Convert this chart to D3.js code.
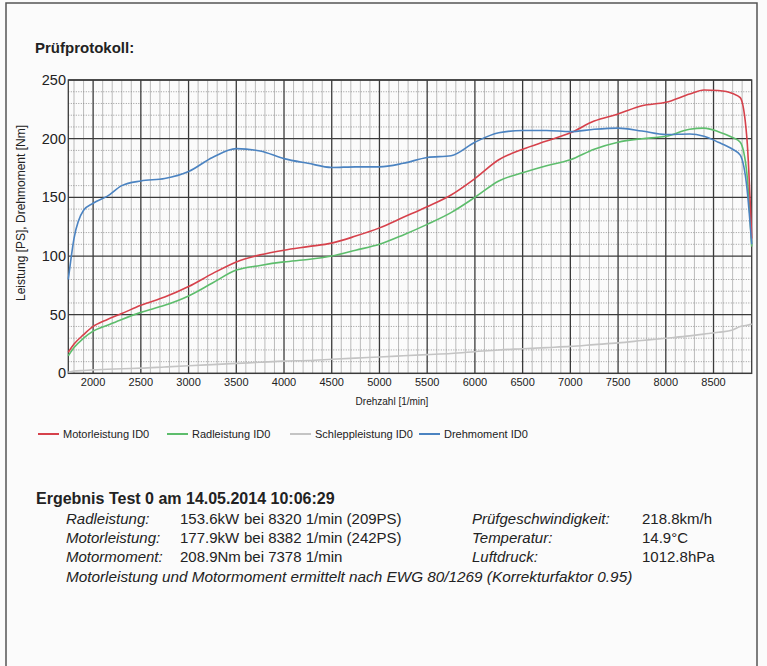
<!DOCTYPE html>
<html>
<head>
<meta charset="utf-8">
<script src="https://cdn.jsdelivr.net/npm/d3@7"></script>
<style>
  body { margin: 0; background: #fbfbfb; }
  text { font-family: "Liberation Sans", Arial, sans-serif; fill: #222; }
  .title { font-size: 15px; font-weight: bold; }
  .head { font-size: 16px; font-weight: bold; }
  .tick { font-size: 11px; }
  .ytick { font-size: 14.5px; }
  .small { font-size: 10px; }
  .leg { font-size: 11px; }
  .ylab { font-size: 12px; }
  .res { font-size: 15px; }
  .note { font-size: 15.3px; }
  .it { font-style: italic; }
</style>
</head>
<body>
<script>
var rpm = [1740, 1800, 1900, 2000, 2150, 2300, 2500, 2750, 3000, 3250, 3500, 3750, 4000, 4250, 4500, 4750, 5000, 5250, 5500, 5750, 6000, 6250, 6500, 6750, 7000, 7250, 7500, 7750, 8000, 8250, 8400, 8550, 8700, 8780, 8850, 8900]

var motorleistung = [18, 25, 33, 40, 46, 51, 58, 65, 74, 85, 95, 101, 105, 108, 111, 117, 124, 133, 142, 152, 166, 182, 191, 198, 205, 215, 221, 228, 231, 238, 241.5, 241, 238.5, 235, 200, 115]
var radleistung = [15, 22, 30, 36, 41, 46, 52, 58, 66, 77, 88, 92, 95, 97, 100, 105, 110, 118, 127, 137, 150, 164, 171, 177, 182, 191, 197, 200, 202, 208, 209, 206, 201, 197, 170, 108]
var schleppleistung = [1, 2, 2.5, 3, 3.5, 4, 4.5, 5.5, 6.5, 7.5, 8.5, 9.5, 10.5, 11, 12, 13, 14, 15, 16, 17, 18.5, 20, 21, 22, 23, 24.5, 26, 28, 30, 32, 33.5, 35, 37, 40, 41, 42]
var drehmoment = [80, 115, 139, 145, 151, 160, 164, 166, 172, 184, 191.5, 189.5, 183, 179, 175.5, 176, 176, 179, 184, 185.5, 197, 205, 207, 207, 206, 208, 209, 206.5, 203.5, 204, 202, 197, 191, 186, 158, 110]

var seriesNames = ["Motorleistung ID0", "Radleistung ID0", "Schleppleistung ID0", "Drehmoment ID0"]
var seriesColors = ["#d6414b", "#5dbd6c", "#c4c4c4", "#4b83c1"]
var xTicks = [2000, 2500, 3000, 3500, 4000, 4500, 5000, 5500, 6000, 6500, 7000, 7500, 8000, 8500]
var yTicks = [0, 50, 100, 150, 200, 250]

var width = 767, height = 666

var svg = d3.select("body").append("svg")
  .attr("width", width)
  .attr("height", height)

svg.append("rect")
  .attr("width", "100%")
  .attr("height", "100%")
  .attr("fill", "#fbfbfb")

//page frame
svg.append("path")
  .attr("d", "M6,666 V3 H757 V666")
  .attr("fill", "none")
  .attr("stroke", "#555")
  .attr("stroke-width", 1.5)

svg.append("text")
  .attr("x", 35)
  .attr("y", 53)
  .attr("class", "title")
  .text("Prüfprotokoll:")

var x = d3.scaleLinear().domain([1740, 8900]).range([68.3, 751.7])
var y = d3.scaleLinear().domain([0, 250]).range([373.4, 80])

//grid
var grid = svg.append("g")
grid.selectAll("line.vmin")
  .data(d3.range(1800, 8900, 100).filter(d => d % 500 != 0))
  .join("line")
  .attr("x1", d => x(d)).attr("x2", d => x(d))
  .attr("y1", y(0)).attr("y2", y(250))
  .attr("stroke", "#ababab")
  .attr("stroke-width", 0.8)
grid.selectAll("line.hmin")
  .data(d3.range(10, 250, 10).filter(d => d % 50 != 0))
  .join("line")
  .attr("x1", x(1740)).attr("x2", x(8900))
  .attr("y1", d => y(d)).attr("y2", d => y(d))
  .attr("stroke", "#808080")
  .attr("stroke-width", 0.8)
  .attr("stroke-dasharray", "1,1.5")
grid.selectAll("line.vmaj")
  .data(xTicks)
  .join("line")
  .attr("x1", d => x(d)).attr("x2", d => x(d))
  .attr("y1", y(0)).attr("y2", y(250))
  .attr("stroke", "#3a3a3a")
  .attr("stroke-width", 1.3)
grid.selectAll("line.hmaj")
  .data(yTicks)
  .join("line")
  .attr("x1", x(1740)).attr("x2", x(8900))
  .attr("y1", d => y(d)).attr("y2", d => y(d))
  .attr("stroke", "#3a3a3a")
  .attr("stroke-width", 1.3)
grid.append("rect")
  .attr("x", x(1740))
  .attr("y", y(250))
  .attr("width", x(8900) - x(1740))
  .attr("height", y(0) - y(250))
  .attr("fill", "none")
  .attr("stroke", "#3a3a3a")
  .attr("stroke-width", 1.3)

//tick labels
svg.append("g")
  .selectAll("text")
  .data(xTicks)
  .join("text")
  .attr("class", "tick")
  .attr("x", d => x(d))
  .attr("y", 386)
  .attr("text-anchor", "middle")
  .text(d => d)
svg.append("g")
  .selectAll("text")
  .data(yTicks)
  .join("text")
  .attr("class", "ytick")
  .attr("x", 66)
  .attr("y", d => y(d) + 5)
  .attr("text-anchor", "end")
  .text(d => d)

svg.append("text")
  .attr("class", "small")
  .attr("x", 392)
  .attr("y", 405)
  .attr("text-anchor", "middle")
  .text("Drehzahl [1/min]")
svg.append("text")
  .attr("class", "ylab")
  .attr("transform", "translate(25,213) rotate(-90)")
  .attr("text-anchor", "middle")
  .text("Leistung [PS], Drehmoment [Nm]")

//curves
var allSeries = [motorleistung, radleistung, schleppleistung, drehmoment]
var line = d3.line()
  .x((d, i) => x(rpm[i]))
  .y(d => y(d))
  .curve(d3.curveMonotoneX)
var order = [2, 1, 0, 3]
svg.append("g")
  .selectAll("path")
  .data(order)
  .join("path")
  .attr("d", d => line(allSeries[d]))
  .attr("fill", "none")
  .attr("stroke", d => seriesColors[d])
  .attr("stroke-width", 1.6)

//legend
var legX = [38, 167, 290, 419]
var leg = svg.append("g")
leg.selectAll("line")
  .data(seriesNames)
  .join("line")
  .attr("x1", (d, i) => legX[i])
  .attr("x2", (d, i) => legX[i] + 21)
  .attr("y1", 434).attr("y2", 434)
  .attr("stroke", (d, i) => seriesColors[i])
  .attr("stroke-width", 2)
leg.selectAll("text")
  .data(seriesNames)
  .join("text")
  .attr("class", "leg")
  .attr("x", (d, i) => legX[i] + 25)
  .attr("y", 438)
  .text(d => d)

//results block
svg.append("text")
  .attr("class", "head")
  .attr("x", 36)
  .attr("y", 504)
  .text("Ergebnis Test 0 am 14.05.2014 10:06:29")

var resLabels = ["Radleistung:", "Motorleistung:", "Motormoment:"]
var resValues = ["153.6kW", "177.9kW", "208.9Nm"]
var resAt = ["bei 8320 1/min (209PS)", "bei 8382 1/min (242PS)", "bei 7378 1/min"]
var condLabels = ["Prüfgeschwindigkeit:", "Temperatur:", "Luftdruck:"]
var condValues = ["218.8km/h", "14.9°C", "1012.8hPa"]

var res = svg.append("g")
resLabels.forEach(function (t, i) {
  var yy = 524 + i * 19
  res.append("text").attr("class", "res it").attr("x", 66).attr("y", yy).text(t)
  res.append("text").attr("class", "res").attr("x", 180).attr("y", yy).text(resValues[i])
  res.append("text").attr("class", "res").attr("x", 244).attr("y", yy).text(resAt[i])
  res.append("text").attr("class", "res it").attr("x", 472).attr("y", yy).text(condLabels[i])
  res.append("text").attr("class", "res").attr("x", 642).attr("y", yy).text(condValues[i])
})
res.append("text")
  .attr("class", "note it")
  .attr("x", 66)
  .attr("y", 582)
  .text("Motorleistung und Motormoment ermittelt nach EWG 80/1269 (Korrekturfaktor 0.95)")
</script>
</body>
</html>
